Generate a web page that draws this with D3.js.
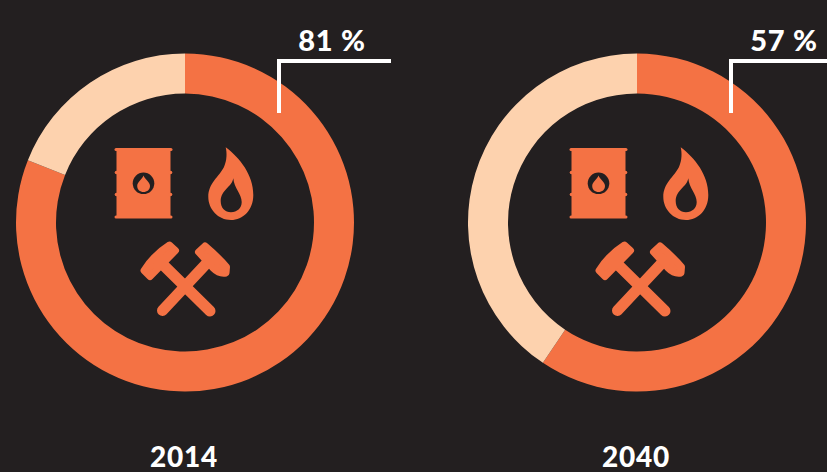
<!DOCTYPE html>
<html>
<head>
<meta charset="utf-8">
<script src="https://cdn.jsdelivr.net/npm/d3@7/dist/d3.min.js"></script>
<style>
  html, body { margin: 0; padding: 0; background: #231f20; overflow: hidden; }
  text { font-family: Lato, sans-serif; font-weight: 900; fill: #fff; }
</style>
</head>
<body>
<svg id="chart" width="827" height="472"></svg>
<script>
var years = ["2014", "2040"]
var labels = ["81 %", "57 %"]
// shares as drawn in the picture (fossil, other)
var fossil = [81, 59.4]
var other = [19, 40.6]

var colors = ["#f47244", "#fdd2ae"]

var svg = d3.select("#chart")

var width = 827, height = 472
var centers = d3.scaleOrdinal().domain(years).range([185, 637])

var pie = d3.pie().sort(null)
var arc = d3.arc().innerRadius(129).outerRadius(169)

// icons are drawn around the first donut, then shifted for the second
var icons = svg.append("defs").append("g").attr("id", "icons").attr("fill", colors[0])

// barrel
icons.append("rect").attr("x", 116.5).attr("y", 149).attr("width", 54).attr("height", 69)
icons.selectAll("circle.rim")
    .data([172.5, 194.5])
    .enter().append("circle")
    .attr("class", "rim")
    .attr("cx", 116.5).attr("cy", d => d).attr("r", 1.8)
icons.selectAll("circle.rimr")
    .data([172.5, 194.5])
    .enter().append("circle")
    .attr("class", "rimr")
    .attr("cx", 170.5).attr("cy", d => d).attr("r", 1.8)
icons.selectAll("line.rim")
    .data([149.5, 217])
    .enter().append("line")
    .attr("class", "rim")
    .attr("x1", 116).attr("x2", 171)
    .attr("y1", d => d).attr("y2", d => d)
    .attr("stroke", colors[0]).attr("stroke-width", 3).attr("stroke-linecap", "round")
icons.append("circle").attr("cx", 143.5).attr("cy", 183.3).attr("r", 10.8).attr("fill", "#231f20")
icons.append("path").attr("d", "M143.5 175.5C145 179.5 150 182 150 186C150 189.8 147 192 143.5 192C140 192 137.2 189.8 137.2 186C137.2 182 142 179.5 143.5 175.5Z")

// flame
icons.append("path")
    .attr("fill-rule", "evenodd")
    .attr("d", "M225.7 147.3C240 158 253.3 175 253.3 195C253.3 210 243 220 231 220C218 220 208.3 209 208.3 197C208.3 183 219 177 224 167C227 160 227 153 225.7 147.3Z"
      + "M233.3 178.3C232 187 220.7 190 220.7 201C220.7 208 225 212.3 231 212.3C237 212.3 241.7 208 241.7 202C241.7 194 234 188 233.3 178.3Z")

// crossed hammers
var hammers = icons.append("g").attr("stroke", colors[0]).attr("stroke-linecap", "round").attr("stroke-linejoin", "round")
hammers.append("line").attr("x1", 163.3).attr("y1", 265).attr("x2", 210).attr("y2", 311).attr("stroke-width", 11)
hammers.append("line").attr("x1", 206.7).attr("y1", 263.3).attr("x2", 162.5).attr("y2", 310.5).attr("stroke-width", 11)
hammers.append("path").attr("stroke-width", 7)
    .attr("d", "M169.5 245L175.5 250.5L150 276.5L144 270.5C150 261 160 251 169.5 245Z")
hammers.append("path").attr("stroke-width", 7)
    .attr("d", "M205 246L198.5 252L213 268C217 272 221 274 226 273L226.5 267C220 259 212 252 205 246Z")

var donut = svg.selectAll("g.donut")
    .data(years)
    .enter().append("g")
    .attr("class", "donut")
    .attr("transform", d => `translate(${centers(d)},222.5)`)

donut.selectAll("path")
    .data((d, i) => pie([fossil[i], other[i]]))
    .enter().append("path")
    .attr("d", arc)
    .attr("fill", (d, i) => colors[i])

svg.selectAll("use.icons")
    .data(years)
    .enter().append("use")
    .attr("class", "icons")
    .attr("href", "#icons")
    .attr("x", (d, i) => i * 455)

// callout lines
svg.selectAll("path.callout")
    .data(years)
    .enter().append("path")
    .attr("class", "callout")
    .attr("fill", "none")
    .attr("stroke", "#fff")
    .attr("stroke-width", 4)
    .attr("d", d => {
      var x = centers(d) + 94
      return `M${x} 113V61H${Math.min(x + 112, width)}`
    })

svg.selectAll("text.label")
    .data(labels)
    .enter().append("text")
    .attr("class", "label")
    .attr("x", (d, i) => centers(years[i]) + 147)
    .attr("y", 51)
    .attr("text-anchor", "middle")
    .attr("font-size", 29)
    .attr("letter-spacing", 0.8)
    .text(d => d)

svg.selectAll("text.year")
    .data(years)
    .enter().append("text")
    .attr("class", "year")
    .attr("x", d => centers(d) - 1)
    .attr("y", 466.5)
    .attr("text-anchor", "middle")
    .attr("font-size", 28)
    .attr("letter-spacing", 0.8)
    .text(d => d)
</script>
</body>
</html>
